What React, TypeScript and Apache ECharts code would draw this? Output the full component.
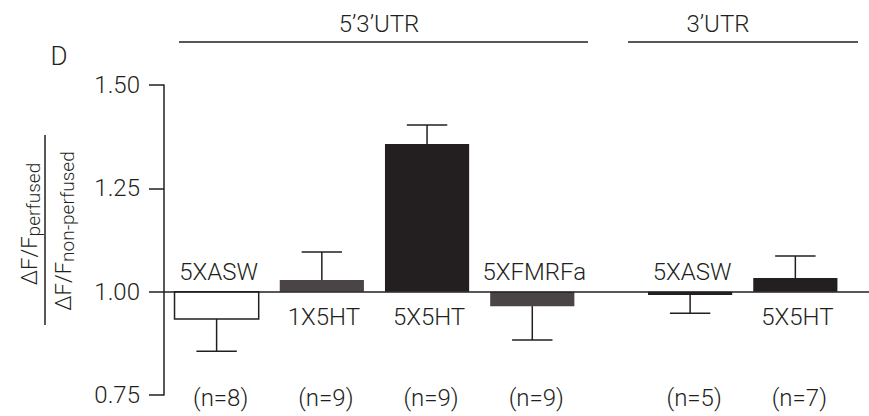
import React, { useEffect, useRef } from "react";
import * as echarts from "echarts";

// ---- data ----
const categories = ["5XASW", "1X5HT", "5X5HT", "5XFMRFa", "5XASW", "5X5HT"];
const groupNames = ["5’3’UTR", "3’UTR"];
const xPositions = [0, 1, 2, 3, 4.5, 5.5];
const values = [0.934, 1.028, 1.357, 0.965, 0.992, 1.033];
const errors = [0.078, 0.068, 0.046, 0.082, 0.044, 0.053];
const nCounts = [8, 9, 9, 9, 5, 7];
const yMin = 0.75;
const yMax = 1.5;
const yStep = 0.25;
const baselineValue = 1;

// ---- styles ----
const INK = "#231f20";
const GRAY = "#4b4446";
const barFill = (i: number) => (i === 0 ? "#ffffff" : i === 1 || i === 3 ? GRAY : INK);
const FONT = "Roboto, 'Liberation Sans', sans-serif";
const W = 300;

export default function App() {
  const ref = useRef<HTMLDivElement>(null);

  useEffect(() => {
    if (!ref.current) return;
    const chart = echarts.init(ref.current, undefined, { renderer: "svg" });

    const renderItem = (params: any, api: any) => {
      const i = params.dataIndex;
      const x = api.value(0);
      const v = api.value(1);
      const base = api.coord([x, baselineValue]);
      const top = api.coord([x, v]);
      const w = api.size([0.8, 0])[0];
      const up = v >= baselineValue;
      const ePt = api.coord([x, up ? v + errors[i] : v - errors[i]]);
      const capHalf = w * 0.24;
      const bottom = api.coord([x, yMin]);
      return {
        type: "group",
        children: [
          {
            type: "rect",
            shape: {
              x: base[0] - w / 2,
              y: Math.min(base[1], top[1]),
              width: w,
              height: Math.abs(top[1] - base[1]),
            },
            style: {
              fill: barFill(i),
              stroke: i === 0 ? INK : null,
              lineWidth: i === 0 ? 1.5 : 0,
            },
          },
          {
            type: "line",
            shape: { x1: top[0], y1: top[1], x2: ePt[0], y2: ePt[1] },
            style: { stroke: INK, lineWidth: 1.5 },
          },
          {
            type: "line",
            shape: { x1: ePt[0] - capHalf, y1: ePt[1], x2: ePt[0] + capHalf, y2: ePt[1] },
            style: { stroke: INK, lineWidth: 1.5 },
          },
          {
            type: "text",
            style: {
              text: categories[i],
              x: base[0] + 2,
              y: up ? base[1] + 25 : base[1] - 20,
              align: "center",
              verticalAlign: "middle",
              font: `${W} 24px ${FONT}`,
              fill: INK,
            },
          },
          {
            type: "text",
            style: {
              text: `(n=${nCounts[i]})`,
              x: base[0] + 4,
              y: bottom[1] + 3,
              align: "center",
              verticalAlign: "middle",
              font: `${W} 24px ${FONT}`,
              fill: INK,
            },
          },
        ],
      };
    };

    const textStyle = (text: string, size = 24) => ({
      text,
      font: `${W} ${size}px ${FONT}`,
      fill: INK,
      align: "center",
      verticalAlign: "middle",
    });

    const richStyle = {
      m: { fontSize: 22, lineHeight: 28, fontFamily: FONT, fontWeight: W, fill: INK },
      s: { fontSize: 19, lineHeight: 19, verticalAlign: "bottom", fontFamily: FONT, fontWeight: W, fill: INK },
    };

    chart.setOption({
      animation: false,
      backgroundColor: "#ffffff",
      grid: { left: 164, top: 85, width: 707, height: 310 },
      xAxis: { type: "value", min: -0.5, max: 6.2, show: false },
      yAxis: {
        type: "value",
        min: yMin,
        max: yMax,
        interval: yStep,
        axisLine: { show: true, onZero: false, lineStyle: { color: INK, width: 1.5 } },
        axisTick: { show: true, inside: false, length: 15, lineStyle: { color: INK, width: 1.5 } },
        axisLabel: {
          margin: 24,
          color: INK,
          fontSize: 24,
          fontFamily: FONT,
          fontWeight: W,
          formatter: (v: number) => v.toFixed(2),
        },
        splitLine: { show: false },
      },
      series: [
        {
          type: "custom",
          renderItem,
          encode: { x: 0, y: 1 },
          data: xPositions.map((x, i) => [x, values[i]]),
          z: 3,
          markLine: {
            silent: true,
            symbol: "none",
            label: { show: false },
            lineStyle: { color: INK, width: 1.5, type: "solid" },
            data: [{ yAxis: baselineValue }],
          },
        },
      ],
      graphic: [
        { type: "text", x: 59, y: 56, style: textStyle("D", 26) },
        { type: "text", x: 379, y: 24, style: textStyle(groupNames[0]) },
        {
          type: "line",
          shape: { x1: 179, y1: 42, x2: 588, y2: 42 },
          style: { stroke: INK, lineWidth: 1.5 },
        },
        { type: "text", x: 718, y: 24, style: textStyle(groupNames[1]) },
        {
          type: "line",
          shape: { x1: 628, y1: 42, x2: 858, y2: 42 },
          style: { stroke: INK, lineWidth: 1.5 },
        },
        {
          type: "text",
          x: 29,
          y: 224,
          rotation: Math.PI / 2,
          style: {
            text: "{m|ΔF/F}{s|perfused}",
            fill: INK,
            align: "center",
            verticalAlign: "middle",
            rich: richStyle,
          },
        },
        {
          type: "line",
          shape: { x1: 45, y1: 135, x2: 45, y2: 325 },
          style: { stroke: INK, lineWidth: 1.5 },
        },
        {
          type: "text",
          x: 63,
          y: 231,
          rotation: Math.PI / 2,
          style: {
            text: "{m|ΔF/F}{s|non-perfused}",
            fill: INK,
            align: "center",
            verticalAlign: "middle",
            rich: richStyle,
          },
        },
      ],
    });

    return () => chart.dispose();
  }, []);

  return (
    <div
      ref={ref}
      style={{ position: "fixed", left: 0, top: 0, width: 869, height: 416, background: "#fff" }}
    />
  );
}
